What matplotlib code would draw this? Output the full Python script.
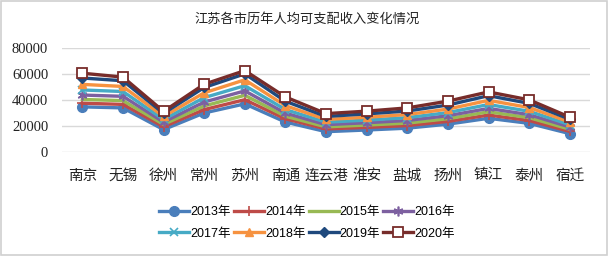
import matplotlib
matplotlib.use("Agg")
import matplotlib.pyplot as plt
from matplotlib.patches import Rectangle

CITIES = ["南京", "无锡", "徐州", "常州", "苏州", "南通", "连云港", "淮安", "盐城", "扬州", "镇江", "泰州", "宿迁"]
YEARS = ["2013年", "2014年", "2015年", "2016年", "2017年", "2018年", "2019年", "2020年"]
Y_TICKS = [0, 20000, 40000, 60000, 80000]

INC_2013 = [34700, 33900, 17200, 30000, 37000, 23000, 15600, 16900, 18300, 21400, 25900, 22000, 14100]
INC_2014 = [37500, 36600, 19400, 32600, 40200, 25500, 17700, 18900, 20300, 23500, 28400, 24200, 15800]
INC_2015 = [40400, 39500, 21200, 35400, 43600, 27500, 19300, 20700, 22200, 25600, 30900, 26400, 17500]
INC_2016 = [43800, 42800, 23000, 38400, 47000, 29900, 21000, 22500, 24200, 27900, 33500, 28700, 19200]
INC_2017 = [47700, 46500, 25000, 41800, 51000, 32600, 22900, 24500, 26400, 30300, 36500, 31300, 21000]
INC_2018 = [52000, 50400, 27300, 45500, 55500, 35600, 25000, 26700, 28800, 33000, 39700, 34200, 23000]
INC_2019 = [56900, 54800, 29700, 49600, 60100, 39000, 27300, 29300, 31500, 36100, 43300, 37400, 25200]
INC_2020 = [60600, 57600, 31200, 52100, 62600, 42300, 29500, 31400, 33900, 39100, 46200, 40100, 26800]

SERIES = [INC_2013, INC_2014, INC_2015, INC_2016, INC_2017, INC_2018, INC_2019, INC_2020]
COLORS = ["#4A7EBB", "#BE4B48", "#98B954", "#7D60A0", "#46AAC5", "#F69240", "#1F497D", "#772C2A"]
MARKERS = ["o", "+", None, (6, 2, 0), "x", "^", "D", "s"]
SIZES = [7, 7, 0, 7, 6, 6, 5, 7]

CJK = ["Noto Sans CJK SC", "DejaVu Sans"]
LEG_FONT = ["Liberation Sans", "Noto Sans CJK SC"]

fig = plt.figure(figsize=(6.14, 2.58), dpi=100)
ax = fig.add_axes([0.101, 0.411, 0.860, 0.403])

x = range(len(CITIES))
handles = []
for vals, year, c, m, s in zip(SERIES, YEARS, COLORS, MARKERS, SIZES):
    kw = {}
    if m == "s":
        kw = dict(markerfacecolor="white", markeredgecolor=c, markeredgewidth=1.3)
    elif m in ("+", "x") or isinstance(m, tuple):
        kw = dict(markeredgewidth=1.2)
    h, = ax.plot(x, vals, color=c, lw=2.4, marker=m, markersize=s, label=year,
                 solid_joinstyle="miter", **kw)
    handles.append(h)

ax.set_xlim(-0.5, len(CITIES) - 0.5)
ax.set_ylim(0, 80000)
ax.set_yticks(Y_TICKS, labels=[str(v) for v in Y_TICKS],
              fontfamily="Liberation Serif", fontsize=10.5, color="#222222")
ax.grid(axis="y", color="#D9D9D9", lw=1)
ax.set_axisbelow(True)
for sp in ax.spines.values():
    sp.set_visible(False)
ax.tick_params(length=0)
ax.set_xticks(list(x))
ax.set_xticklabels(CITIES, family=CJK, fontsize=10.5, color="#222222")
ax.tick_params(axis="y", pad=10)
ax.tick_params(axis="x", pad=12)

fig.text(0.5, 0.925, "江苏各市历年人均可支配收入变化情况", ha="center", va="center",
         family=CJK, fontsize=9.5, color="#222222")

# row-wise legend order for a 2 x 4 grid (matplotlib fills column-wise)
order = [0, 4, 1, 5, 2, 6, 3, 7]
fig.legend([handles[i] for i in order], [YEARS[i] for i in order],
           loc="center", bbox_to_anchor=(0.5, 0.135), ncol=4, frameon=False,
           prop={"family": LEG_FONT, "size": 9}, handlelength=2.4,
           handletextpad=0.1, columnspacing=0.25, labelspacing=0.75)

fig.patches.append(Rectangle((0.002, 0.012), 0.986, 0.984, transform=fig.transFigure,
                             fill=False, edgecolor="#D0D0D0", lw=1.2))

fig.savefig("out.png", dpi=100)
